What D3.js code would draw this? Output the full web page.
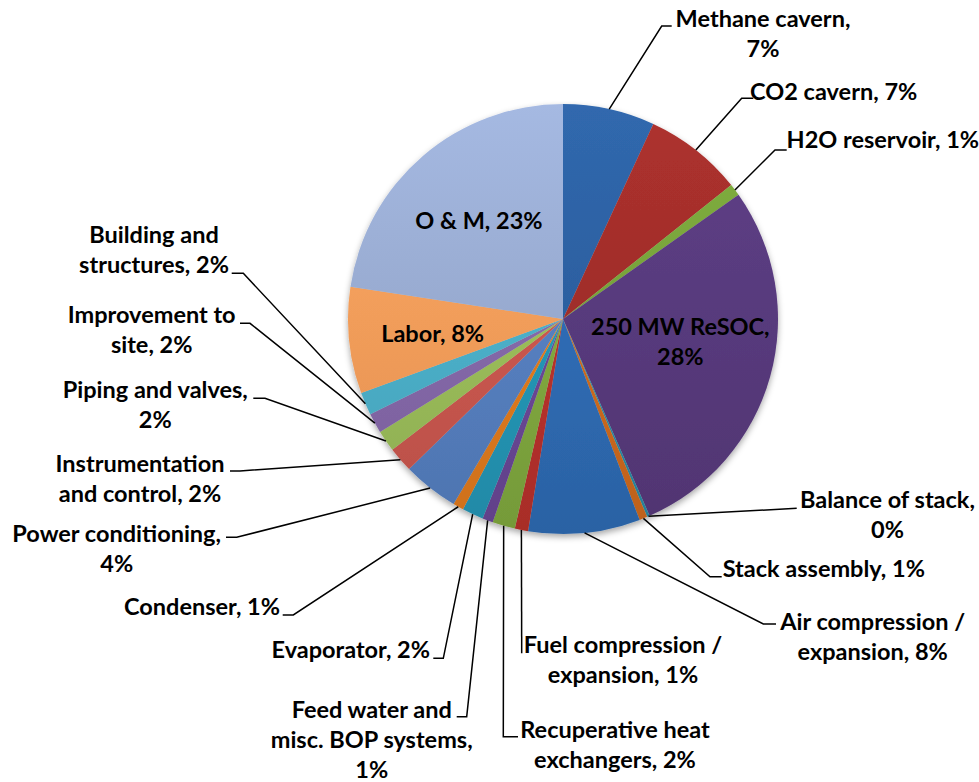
<!DOCTYPE html>
<html>
<head>
<meta charset="utf-8">
<script src="https://cdn.jsdelivr.net/npm/d3@7"></script>
<style>
  html, body { margin: 0; padding: 0; background: #fff; }
  svg text { font-family: Lato, "Open Sans", sans-serif; font-weight: 700; fill: #000; }
</style>
</head>
<body>
<svg id="chart" width="979" height="782"></svg>
<script>
// ---- Data ----
const categories = [
  "Methane cavern", "CO2 cavern", "H2O reservoir", "250 MW ReSOC",
  "Balance of stack", "Stack assembly", "Air compression / expansion",
  "Fuel compression / expansion", "Recuperative heat exchangers",
  "Feed water and misc. BOP systems", "Evaporator", "Condenser",
  "Power conditioning", "Instrumentation and control", "Piping and valves",
  "Improvement to site", "Building and structures", "Labor", "O & M"
];
const shares = [
  6.9, 7.4, 0.9, 28.2,
  0.2, 0.6, 8.4,
  1.0, 1.7,
  0.8, 1.6, 0.8,
  4.2, 1.9, 1.6,
  1.5, 1.7, 8.0, 22.6
];
const colors = [
  "#2c5f9f", "#9f2d2a", "#76a13a", "#573a7c",
  "#2a8ba5", "#cf6a1e", "#2f6bb3",
  "#b8312c", "#80a83e",
  "#6a4796", "#2596b5", "#e07a1e",
  "#557fbf", "#c9564f", "#9abc5a",
  "#8468a8", "#4bafc8", "#f89c5a", "#97a9cf"
];

// ---- Layout (label placement, not data) ----
const labelLayout = [
  {lines:[2,1], x:763,   y:27,    leader:[[661.7,26],[671.7,26]]},
  {lines:[3],   x:833.7, y:100,   leader:[[741.7,98.3],[753.3,98.3]]},
  {lines:[3],   x:882.8, y:148,   leader:[[775,150],[786.7,150]]},
  {lines:[3,1], inside:true, dx:-7, dy:-12},
  {lines:[3,1], x:887.5, y:508.3, leader:[[796.7,508.3]]},
  {lines:[3],   x:823.8, y:576.7, leader:[[710,576.7],[721.7,576.7]]},
  {lines:[3,2], x:872.7, y:630,   leader:[[763.3,624],[776,624]]},
  {lines:[3,2], x:623,   y:653.3, leader:[[521.7,653.3]]},
  {lines:[2,2], x:615,   y:738.3, leader:[[503.3,736.7],[518,736.7]]},
  {lines:[3,3,1], x:371.7, y:718.3, leader:[[466.7,716.7],[456.7,716.7]]},
  {lines:[2],   x:350.8, y:658.3, leader:[[443.3,658.3],[433.3,658.3]]},
  {lines:[2],   x:202,   y:615,   leader:[[293.3,615],[282.7,615]]},
  {lines:[2,1], x:116.7, y:541.7, leader:[[236.7,537.3],[226,537.3]]},
  {lines:[1,3], x:140,   y:471.7, leader:[[240,471],[230,471]]},
  {lines:[3,1], x:155.3, y:398,   leader:[[265,398.3],[253.3,398.3]]},
  {lines:[2,2], x:151.7, y:323.3, leader:[[250,323.3],[240,323.3]]},
  {lines:[2,2], x:154,   y:243.3, leader:[[243.3,273.3],[231.7,273.3]]},
  {lines:[2],   inside:true, dx:-2, dy:2},
  {lines:[4],   inside:true, dx:0, dy:0}
];

const cx = 563, cy = 319, R = 215;
const fontSize = 23.5, lineH = 30;

const svg = d3.select("#chart");
const defs = svg.append("defs");

const filt = defs.append("filter").attr("id", "shadow")
  .attr("x", "-10%").attr("y", "-10%").attr("width", "120%").attr("height", "125%");
filt.append("feDropShadow").attr("dx", 0).attr("dy", 3).attr("stdDeviation", 3)
  .attr("flood-color", "#000").attr("flood-opacity", 0.35);

const data = categories.map((c, i) => ({name: c, value: shares[i], color: colors[i], layout: labelLayout[i], i}));
const total = d3.sum(shares);

const pie = d3.pie().sort(null).value(d => d.value).startAngle(0).endAngle(2 * Math.PI);
const arcs = pie(data);
const arc = d3.arc().innerRadius(0).outerRadius(R);
const labelArc = d3.arc().innerRadius(R * 0.6).outerRadius(R * 0.6);

arcs.forEach(a => {
  const c = d3.color(a.data.color);
  const g = defs.append("linearGradient").attr("id", "g" + a.index)
    .attr("gradientUnits", "userSpaceOnUse")
    .attr("x1", 0).attr("y1", -R).attr("x2", 0).attr("y2", R);
  g.append("stop").attr("offset", "0%").attr("stop-color", c.brighter(0.25));
  g.append("stop").attr("offset", "100%").attr("stop-color", c.darker(0.25));
});

const gPie = svg.append("g").attr("transform", `translate(${cx},${cy})`).attr("filter", "url(#shadow)");
gPie.selectAll("path").data(arcs).join("path")
  .attr("d", arc)
  .attr("fill", d => `url(#g${d.index})`);

const fmtPct = v => Math.round(v / total * 100) + "%";

function lineTexts(d) {
  const words = (d.data.name + ", " + fmtPct(d.data.value)).split(" ");
  const out = [];
  let k = 0;
  d.data.layout.lines.forEach(n => { out.push(words.slice(k, k + n).join(" ")); k += n; });
  return out;
}

const gLead = svg.append("g");
arcs.filter(d => !d.data.layout.inside).forEach(d => {
  const mid = (d.startAngle + d.endAngle) / 2;
  const p0 = [cx + R * Math.sin(mid), cy - R * Math.cos(mid)];
  const pts = [p0].concat(d.data.layout.leader);
  gLead.append("path")
    .attr("d", d3.line()(pts))
    .attr("fill", "none").attr("stroke", "#000").attr("stroke-width", 1.5);
});

const gLab = svg.append("g");
arcs.forEach(d => {
  const L = d.data.layout;
  const lines = lineTexts(d);
  let x, y;
  if (L.inside) {
    const c = labelArc.centroid(d);
    x = cx + c[0] + L.dx;
    y = cy + c[1] + L.dy - (lines.length - 1) * lineH / 2 + fontSize * 0.35;
  } else {
    x = L.x; y = L.y;
  }
  const t = gLab.append("text").attr("text-anchor", "middle").attr("font-size", fontSize);
  lines.forEach((s, j) => {
    t.append("tspan").attr("x", x).attr("y", y + j * lineH).text(s);
  });
});
</script>
</body>
</html>
